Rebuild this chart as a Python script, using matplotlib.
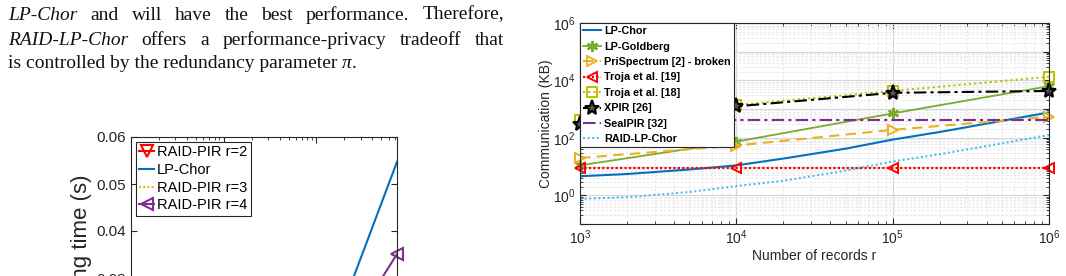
import numpy as np
import matplotlib
matplotlib.use("Agg")
import matplotlib.pyplot as plt
from matplotlib.ticker import FixedLocator, LogLocator, FuncFormatter, NullFormatter

# ---- data ----
# right chart: communication vs number of records
x_rec = [1e3, 1e4, 1e5, 1e6]
x_dense = [1e3, 2e3, 5e3, 1e4, 2e4, 5e4, 1e5, 2e5, 5e5, 1e6]
lp_chor = [4.6, 5.5, 7.9, 11, 19, 42, 87, 160, 390, 770]
raid_lp_chor = [0.75, 0.86, 1.3, 2.1, 3.2, 7.2, 15, 27, 64, 126]
lp_goldberg = [11, 74, 710, 6300]
prispectrum = [20, 54, 190, 540]
troja19 = [9, 9, 9, 9]
troja18 = [420, 1400, 4300, 13400]
xpir = [300, 1250, 3700, 4300]
sealpir = [420, 420, 420, 420]

# left chart (only the top part is visible)
x_left = [1e5, 7.4e5]
lp_chor_left = [0.0092, 0.0547]
raid_r2 = [0.004, 0.021]
raid_r3 = [0.005, 0.027]
raid_r4 = [0.0078, 0.0351]

# paper text
line1 = [("LP-Chor", "italic"), ("and", "normal"), ("will", "normal"), ("have", "normal"),
         ("the", "normal"), ("best", "normal"), ("performance.", "normal"), ("Therefore,", "normal")]
line2 = [("RAID-LP-Chor", "italic"), ("offers", "normal"), ("a", "normal"),
         ("performance-privacy", "normal"), ("tradeoff", "normal"), ("that", "normal")]
line3 = [("is controlled by the redundancy parameter ", "normal"), ("\u03c0", "italic"), (".", "normal")]

plt.rcParams["font.family"] = "Liberation Sans"
plt.rcParams["mathtext.fontset"] = "custom"
plt.rcParams["mathtext.rm"] = "Liberation Sans"
plt.rcParams["mathtext.default"] = "regular"

W, H = 1066, 276
fig = plt.figure(figsize=(W / 100, H / 100), dpi=100)
dark = "#262626"

# ---- paper text, justified word by word ----
renderer = fig.canvas.get_renderer()


def put_line(words, y_px, x0=8, x1=None, size=14):
    texts = []
    for w, st in words:
        t = fig.text(0, 1 - y_px / H, w, fontsize=size, family="Liberation Serif",
                     style=st, va="baseline", ha="left", color="#111111")
        texts.append(t)
    widths = [t.get_window_extent(renderer).width for t in texts]
    if x1 is None:
        gap = 0
    else:
        gap = (x1 - x0 - sum(widths)) / (len(texts) - 1)
    x = x0
    for t, w in zip(texts, widths):
        t.set_x(x / W)
        x += w + gap


put_line(line1, 19.5, x1=504)
put_line(line2, 45, x1=504)
put_line(line3, 68.5)

# ---- left chart (cut off at the bottom) ----
axL = fig.add_axes([131 / W, (276 - 419) / H, 266 / W, 282 / H])
axL.plot(x_left, raid_r2, color="#FF0000", lw=1.5, marker="v", mfc="none", mew=1.5, ms=8,
         label="RAID-PIR r=2", clip_on=False)
axL.plot(x_left, lp_chor_left, color="#0072BD", lw=1.5, label="LP-Chor")
axL.plot(x_left, raid_r3, color="#EDB120", lw=1.5, ls=(0, (1, 1)), label="RAID-PIR r=3")
axL.plot(x_left, raid_r4, color="#7E2F8E", lw=1.5, marker="<", mfc="none", mew=1.5, ms=8,
         label="RAID-PIR r=4", clip_on=False)
axL.set_xscale("log")
axL.set_xlim(1e3, 7.4e5)
axL.set_ylim(0, 0.06)
axL.set_yticks([0.03, 0.04, 0.05, 0.06])
axL.yaxis.set_major_formatter(FuncFormatter(lambda v, p: f"{v:.2f}"))
axL.tick_params(which="both", direction="in", top=True, right=True, colors=dark,
                labelsize=11, length=4, labelbottom=False)
axL.tick_params(which="minor", length=2.5)
axL.xaxis.set_minor_formatter(NullFormatter())
for s in axL.spines.values():
    s.set_color(dark)
    s.set_linewidth(0.8)
axL.set_ylabel("Processing time (s)", fontsize=16, color=dark)
axL.yaxis.set_label_coords(-0.145, 0.53)
legL = axL.legend(loc="upper left", bbox_to_anchor=(0, 1), borderaxespad=0.33, fontsize=10.5,
                  handlelength=1.0, handletextpad=0.2, labelspacing=0.25, borderpad=0.25,
                  fancybox=False, framealpha=1, edgecolor=dark, numpoints=1)
legL.get_frame().set_linewidth(0.8)

# ---- right chart ----
axR = fig.add_axes([580 / W, 1 - 224 / H, 469 / W, 201 / H])
axR.plot(x_dense, lp_chor, color="#0072BD", lw=1.5, label="LP-Chor")
axR.plot(x_rec, lp_goldberg, color="#77AC30", lw=1.3, marker=(6, 2, 0), ms=8, mew=1.6,
         label="LP-Goldberg", clip_on=False)
axR.plot(x_rec, prispectrum, color="#EDB120", lw=1.5, ls=(0, (5, 3)), marker=">", mfc="none",
         mew=1.4, ms=7, label="PriSpectrum [2] - broken", clip_on=False)
axR.plot(x_rec, troja19, color="#FF0000", lw=1.6, ls=(0, (1, 1)), marker="<", mfc="none",
         mew=1.4, ms=7, label="Troja et al. [19]", clip_on=False)
axR.plot(x_rec, troja18, color="#BFBF00", lw=1.5, ls=(0, (1, 1.5)), marker="s", mfc="none",
         mew=1.4, ms=7, label="Troja et al. [18]", clip_on=False)
axR.plot(x_rec, xpir, color="k", lw=1.5, ls=(0, (6, 2, 1.5, 2)), marker="*", mfc="#555555",
         mew=1.5, ms=11, label="XPIR [26]", clip_on=False)
axR.plot(x_rec, sealpir, color="#7E2F8E", lw=1.5, ls=(0, (6, 2, 1.5, 2)), label="SealPIR [32]")
axR.plot(x_dense, raid_lp_chor, color="#4DBEEE", lw=1.5, ls=(0, (1, 1.2)), label="RAID-LP-Chor")

axR.set_xscale("log")
axR.set_yscale("log")
axR.set_xlim(1e3, 1e6)
axR.set_ylim(0.1, 1e6)
axR.yaxis.set_major_locator(FixedLocator([10.0 ** e for e in range(-1, 7)]))
axR.yaxis.set_minor_locator(LogLocator(base=10, subs=np.arange(2, 10), numticks=20))
axR.xaxis.set_major_locator(FixedLocator(x_rec))
axR.xaxis.set_minor_locator(LogLocator(base=10, subs=np.arange(2, 10), numticks=20))


def log_label(v, p):
    e = int(round(np.log10(v)))
    return f"$10^{{{e}}}$"


def log_label_even(v, p):
    e = int(round(np.log10(v)))
    return f"$10^{{{e}}}$" if e % 2 == 0 else ""


axR.xaxis.set_major_formatter(FuncFormatter(log_label))
axR.yaxis.set_major_formatter(FuncFormatter(log_label_even))
axR.xaxis.set_minor_formatter(NullFormatter())
axR.yaxis.set_minor_formatter(NullFormatter())
axR.tick_params(which="both", direction="in", top=True, right=True, colors=dark, labelsize=10)
axR.tick_params(which="major", length=4)
axR.tick_params(which="minor", length=2.5)
axR.grid(True, which="major", color="#d6d6d6", lw=0.8)
axR.grid(True, which="minor", color="#e4e4e4", lw=0.6, ls=(0, (3, 2)))
axR.set_axisbelow(True)
for s in axR.spines.values():
    s.set_color(dark)
    s.set_linewidth(0.8)
axR.set_xlabel("Number of records r", fontsize=10, color=dark, labelpad=1)
axR.set_ylabel("Communication (KB)", fontsize=10, color=dark, labelpad=0)

legR = axR.legend(loc="upper left", bbox_to_anchor=(0, 1), borderaxespad=0,
                  prop={"weight": "bold", "size": 7.8}, handlelength=1.6, handletextpad=0.35,
                  labelspacing=0.5, borderpad=0.3, fancybox=False, framealpha=1,
                  edgecolor=dark, numpoints=1)
legR.get_frame().set_linewidth(0.8)
legR.set_zorder(10)

fig.savefig("out.png", dpi=100)
